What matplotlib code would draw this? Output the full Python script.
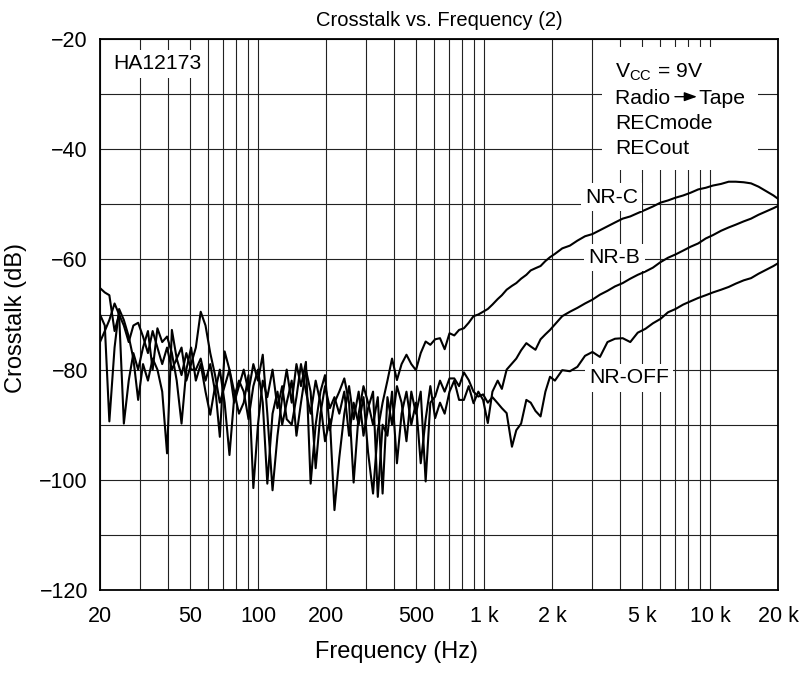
import matplotlib
matplotlib.use('Agg')
import matplotlib.pyplot as plt

plt.rcParams['font.family'] = ['Liberation Sans', 'DejaVu Sans']
plt.rcParams['mathtext.fontset'] = 'custom'
plt.rcParams['mathtext.rm'] = 'Liberation Sans'
plt.rcParams['font.size'] = 15.2

# sweep frequencies (Hz)
freq = [20, 21, 22, 23.2, 24.3, 25.5, 26.8, 28.1, 29.5, 31,
        32.6, 34.2, 35.9, 37.7, 39.6, 41.6, 43.7, 45.9, 48.2, 50.6,
        53.1, 55.8, 58.6, 61.5, 64.6, 67.8, 71.2, 74.8, 78.5, 82.4,
        86.5, 90.8, 95.4, 100, 105, 110, 116, 122, 128, 134,
        141, 148, 155, 163, 171, 180, 189, 198, 208, 218,
        229, 241, 253, 265, 279, 293, 307, 323, 339, 356,
        374, 392, 412, 432, 454, 477, 500, 525, 552, 579,
        608, 639, 670, 704, 739, 776, 815, 856, 899, 944,
        991, 1040, 1090, 1150, 1200, 1260, 1330, 1390, 1460, 1540,
        1610, 1690, 1780, 1870, 1960, 2060, 2220, 2400, 2590, 2800,
        3020, 3260, 3520, 3800, 4110, 4440, 4790, 5180, 5590, 6040,
        6520, 7040, 7610, 8210, 8870, 9580, 10300, 11200, 12100, 13000,
        14100, 15200, 16400, 17700, 19100, 20000]

# crosstalk (dB)
nr_c = [-65.2, -66, -66.5, -73, -70, -72, -75, -72, -71.5, -74,
        -77, -73, -76, -79, -76, -80, -78, -81, -77, -80,
        -80, -78, -82, -79, -84, -80, -86, -95.5, -85, -82,
        -84, -89, -83, -80, -86, -100.7, -88, -84, -90, -86,
        -82, -92, -86, -80, -84, -97.9, -88, -83, -87, -85,
        -88, -84, -92, -86, -90, -85, -95, -102.5, -91, -86,
        -82, -78, -81.9, -79, -77.3, -79, -80.1, -77, -74.9, -75.5,
        -74.5, -74.3, -76.3, -73.4, -73.8, -72.8, -72.5, -71.5, -70.3, -70,
        -69.5, -69, -68.2, -67.2, -66.5, -65.5, -64.8, -64.3, -63.5, -62.8,
        -62, -61.6, -61.2, -60.3, -59.6, -59, -58, -57.5, -56.6, -55.8,
        -55.4, -54.7, -54, -53.3, -52.6, -52.2, -51.6, -51, -50.4, -49.7,
        -49.3, -48.8, -48.4, -47.9, -47.3, -47, -46.6, -46.3, -45.9, -45.9,
        -46, -46.2, -46.8, -47.6, -48.4, -49]

nr_b = [-70, -72, -89.4, -76, -69, -71, -74, -78, -85.5, -79,
        -82, -78, -80, -84, -95.2, -72.8, -78, -76, -82, -79,
        -76, -69.5, -72, -77, -81, -86, -83, -80, -84, -88,
        -86, -81, -101.5, -90, -82, -85, -80, -87, -83, -89,
        -90, -85, -79, -84, -88, -82, -86, -93, -89, -105.5,
        -96, -88, -83, -89, -84, -92, -87, -84, -103.1, -90,
        -92, -84, -97, -88, -84, -90, -86, -97, -89, -83,
        -88.8, -86, -88, -84, -82, -85.5, -85.5, -83, -86.1, -84,
        -85.5, -89.7, -84, -82, -83.5, -80, -78.9, -78, -76.5, -75.2,
        -75.8, -76.4, -74.5, -73.6, -72.8, -71.8, -70.3, -69.5, -68.8, -68,
        -67.3, -66.4, -65.7, -64.9, -64.3, -63.5, -62.8, -62.2, -61.5, -60.5,
        -59.7, -59.1, -58.4, -57.7, -57.1, -56.2, -55.6, -54.8, -54.2, -53.7,
        -53.1, -52.6, -51.9, -51.3, -50.7, -50.3]

nr_off = [-75, -73, -71, -68, -70, -89.8, -82, -77, -80, -76,
          -73, -80, -72.5, -75, -74, -77, -82, -89.8, -80, -76,
          -82, -79, -84, -88.2, -83, -92.2, -76.7, -80, -86, -83,
          -80, -84, -79, -82, -77.3, -88, -101.9, -92, -85, -80,
          -86, -79, -83, -78.6, -100.7, -90, -84, -81, -91, -86,
          -84, -81.6, -86, -100.5, -88, -83, -86, -90, -85, -102.5,
          -85, -90, -83, -86, -93, -84, -88, -84, -100.3, -86,
          -84.9, -82, -84, -81.6, -81.6, -83, -80.5, -81.9, -84, -84.9,
          -84.5, -86, -85, -86.1, -87, -87.9, -94, -91, -89.8, -85.5,
          -86, -87.5, -88.5, -84, -81.3, -82, -80.1, -80.3, -79.5, -77.5,
          -76.8, -77.7, -75, -74.4, -74.3, -75, -73.3, -72.6, -71.6, -70.8,
          -69.6, -69, -68.2, -67.6, -67, -66.5, -66, -65.5, -65, -64.4,
          -63.8, -63.4, -62.6, -61.9, -61.2, -60.7]

x_ticks = [20, 50, 100, 200, 500, 1000, 2000, 5000, 10000, 20000]
x_labels = ['20', '50', '100', '200', '500', '1 k', '2 k', '5 k', '10 k', '20 k']
x_minor = [30, 40, 60, 70, 80, 90, 300, 400, 600, 700, 800, 900,
           3000, 4000, 6000, 7000, 8000, 9000]
y_ticks = [-120, -100, -80, -60, -40, -20]
y_labels = ['\u2212120', '\u2212100', '\u221280', '\u221260', '\u221240', '\u221220']
y_minor = [-110, -90, -70, -50, -30]

fig = plt.figure(figsize=(8.05, 6.73), dpi=100)
ax = fig.add_axes([100 / 805, 83 / 673, 678 / 805, 551 / 673])

ax.plot(freq, nr_c, color='black', lw=1.5, zorder=3)
ax.plot(freq, nr_b, color='black', lw=1.5, zorder=3)
ax.plot(freq, nr_off, color='black', lw=1.5, zorder=3)

ax.set_xscale('log')
ax.set_xlim(20, 20000)
ax.set_ylim(-120, -20)
ax.set_xticks(x_ticks, x_labels)
ax.set_xticks(x_minor, minor=True)
ax.set_xticklabels([], minor=True)
ax.set_yticks(y_ticks, y_labels)
ax.set_yticks(y_minor, minor=True)
ax.tick_params(which='both', length=0, labelsize=15.5)
ax.tick_params(axis='x', pad=11.5)
ax.tick_params(axis='y', pad=8.6)
ax.grid(which='both', color='#222222', lw=0.8)
for s in ax.spines.values():
    s.set_linewidth(1.3)

ax.set_title('Crosstalk vs. Frequency (2)', fontsize=14.5, pad=9)
ax.set_xlabel('Frequency (Hz)', fontsize=17)
ax.set_ylabel('Crosstalk (dB)', fontsize=17)
ax.xaxis.set_label_coords(0.438, -0.093)
ax.yaxis.set_label_coords(-0.108, 0.494)

box = dict(boxstyle='square,pad=0.2', fc='white', ec='none')
ax.text(0.019, 0.955, 'HA12173', transform=ax.transAxes, ha='left', va='center',
        bbox=box, zorder=4)
ax.text(0.7596, 0.872,
        'V$_\\mathregular{CC}$ = 9V\nRadio     Tape\nRECmode\nRECout',
        transform=ax.transAxes, ha='left', va='center', linespacing=1.4,
        bbox=dict(boxstyle='square,pad=0.6', fc='white', ec='none'), zorder=4)
ax.annotate('', xy=(0.8805, 0.8953), xytext=(0.848, 0.8953),
            xycoords='axes fraction', textcoords='axes fraction',
            arrowprops=dict(arrowstyle='-|>,head_length=0.5,head_width=0.18',
                            color='black', lw=1, shrinkA=0, shrinkB=0),
            zorder=5)
ax.text(2800, -48.7, 'NR-C', ha='left', va='center', bbox=box, zorder=4)
ax.text(2900, -59.7, 'NR-B', ha='left', va='center', bbox=box, zorder=4)
ax.text(2920, -81.5, 'NR-OFF', ha='left', va='center', bbox=box, zorder=4)

fig.savefig('out.png', dpi=100)
